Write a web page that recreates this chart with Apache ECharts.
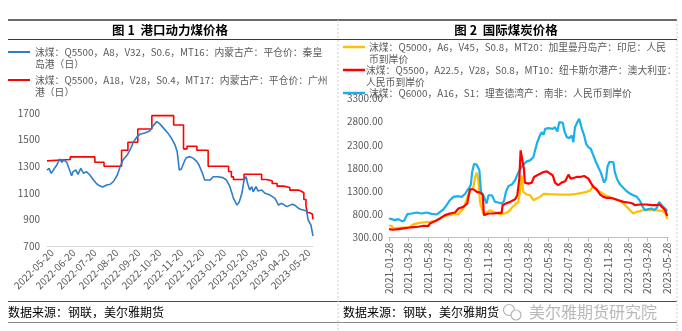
<!DOCTYPE html>
<html><head><meta charset="utf-8">
<script src="https://cdn.jsdelivr.net/npm/echarts@6/dist/echarts.min.js"></script>
<style>html,body{margin:0;padding:0;background:#fff}#c{width:682px;height:331px}</style>
</head><body><div id="c"></div>
<script>
// ---------- Figure 1: port thermal coal prices ----------
const leftStart = '2022-05-13', leftEnd = '2023-05-26';
const leftTicks = ['2022-05-20','2022-06-20','2022-07-20','2022-08-20','2022-09-20','2022-10-20','2022-11-20','2022-12-20','2023-01-20','2023-02-20','2023-03-20','2023-04-20','2023-05-20'];
const leftYTicks = [700, 900, 1100, 1300, 1500, 1700];
// day offsets from leftStart
const qhdDays = [0,3,6,9,14,18,21,24,28,32,35,37,41,44,48,52,56,61,63,66,70,74,79,85,90,95,100,104,108,114,119,123,128,132,139,146,151,156,160,165,172,177,182,185,188,191,195,198,203,208,213,216,221,224,232,236,243,250,255,260,265,270,273,277,280,283,285,288,291,293,297,300,305,310,317,324,329,333,341,348,352,359,364,369,371,375,378];
const qhdVals = [1271,1284,1246,1271,1309,1354,1329,1347,1329,1271,1229,1259,1271,1239,1284,1246,1259,1234,1246,1196,1171,1154,1144,1159,1164,1189,1234,1297,1347,1384,1434,1484,1522,1540,1550,1565,1605,1635,1620,1590,1547,1510,1459,1409,1271,1279,1334,1364,1372,1359,1334,1309,1246,1196,1196,1221,1221,1214,1196,1146,1058,1008,1028,1096,1196,1221,1171,1121,1146,1108,1146,1113,1121,1096,1083,1058,1008,1021,996,1013,1008,978,971,963,896,858,775];
const gzDays = [0,2,33,68,81,106,115,129,149,180,194,199,213,229,258,262,265,280,305,312,320,327,336,345,358,362,365,368,370,373,377,378];
const gzVals = [1340,1350,1370,1330,1300,1420,1480,1580,1680,1610,1430,1450,1420,1300,1260,1220,1200,1240,1200,1190,1170,1150,1140,1120,1110,1100,1050,1000,950,940,930,900];

// ---------- Figure 2: international coal prices ----------
const rightStart = '2021-01-28', rightEnd = '2023-05-31';
const rightTicks = ['2021-01-28','2021-03-28','2021-05-28','2021-07-28','2021-09-28','2021-11-28','2022-01-28','2022-03-28','2022-05-28','2022-07-28','2022-09-28','2022-11-28','2023-01-28','2023-03-28','2023-05-28'];
const rightYTicks = [300, 800, 1300, 1800, 2300, 2800, 3300];
const indoDays = [0,8,13,29,49,64,74,85,105,125,141,154,166,181,199,212,217,227,235,242,250,258,263,268,273,278,288,298,309,319,339,354,365,375,385,395,400,405,410,421,431,441,451,461,472,492,522,553,573,589,604,614,624,634,645,665,685,706,721,736,746,757,777,808,833,843,850];
const indoVals = [557,557,500,514,521,536,586,607,629,643,657,714,750,786,800,800,857,929,1086,1214,1321,1393,1607,1700,1536,1057,821,843,893,857,807,821,857,943,1014,1071,1286,1643,1286,1229,1214,1107,1143,1179,1243,1236,1229,1229,1243,1264,1286,1314,1414,1321,1286,1200,1143,1086,1000,893,821,857,893,893,879,843,700];
const ausDays = [0,13,29,44,59,74,90,105,120,125,141,156,171,186,202,212,227,239,247,258,268,278,286,290,304,319,334,344,347,357,370,385,392,398,402,408,412,415,426,436,443,456,472,482,492,500,507,517,527,538,548,555,563,573,583,596,609,616,624,634,645,655,665,675,685,701,716,731,744,751,757,767,787,802,818,826,833,843,850];
const ausVals = [486,471,486,500,514,529,536,557,550,607,657,714,786,821,843,929,964,1036,1343,1343,1286,1271,1229,786,821,821,836,836,1000,1036,1071,1129,1214,1571,2179,2157,1786,1486,1464,1486,1607,1657,1714,1729,1679,1643,1486,1429,1486,1514,1657,1571,1586,1607,1607,1629,1571,1486,1393,1343,1229,1179,1157,1157,1143,1107,1071,1057,1036,1000,1036,1014,1014,1000,1000,1014,964,893,771];
const saDays = [0,8,18,29,39,46,52,56,69,85,100,115,130,146,156,166,176,186,197,212,222,232,239,245,250,254,260,268,276,281,288,293,298,304,314,324,334,344,351,357,365,375,385,392,400,410,421,431,441,446,453,461,466,472,477,487,492,500,507,514,520,531,535,543,551,558,563,568,575,581,589,596,602,609,616,624,632,639,647,653,657,663,667,673,685,690,698,706,716,726,736,746,757,767,775,782,792,802,810,818,825,833,843,850];
const saVals = [714,700,679,700,657,664,643,807,821,843,821,843,814,800,857,907,1000,1107,1179,1193,1179,1236,1321,1371,1443,1714,1893,1871,1750,1286,1214,1214,1036,1214,1214,1071,1057,1036,1086,1286,1414,1443,1536,1657,1771,1871,1943,1964,2036,2179,2357,2500,2571,2514,2643,2657,2679,2643,2679,2586,2786,2771,2607,2464,2443,2500,2357,2679,2786,2857,2643,2500,2321,2250,2214,2071,1929,1821,1700,1571,1486,1571,1821,1929,1929,1700,1536,1443,1371,1300,1250,1214,1179,1086,964,893,914,929,893,943,1071,1000,929,871];

const names = {
  qhd: ['沫煤：Q5500，A8，V32，S0.6，MT16：内蒙古产：平仓价：秦皇', '岛港（日）'],
  gz: ['沫煤：Q5500，A18，V28，S0.4，MT17：内蒙古产：平仓价：广州', '港（日）'],
  indo: ['沫煤：Q5000，A6，V45，S0.8，MT20：加里曼丹岛产：印尼：人民', '币到岸价'],
  aus: ['沫煤：Q5500，A22.5，V28，S0.8，MT10：纽卡斯尔港产：澳大利亚：', '人民币到岸价'],
  sa: ['沫煤：Q6000，A16，S1：理查德湾产：南非：人民币到岸价']
};

function toTs(s) { const p = s.split('-').map(Number); return Date.UTC(p[0], p[1] - 1, p[2]); }
function dayTs(start, d) { const p = start.split('-').map(Number); return Date.UTC(p[0], p[1] - 1, p[2] + d); }
function pairs(start, days, vals) { return days.map((d, i) => [dayTs(start, d), vals[i]]); }
function fmtDate(v) { const d = new Date(v); const z = n => (n < 10 ? '0' : '') + n; return d.getUTCFullYear() + '-' + z(d.getUTCMonth() + 1) + '-' + z(d.getUTCDate()); }

const FONT = '"Noto Sans CJK SC", "Noto Sans", sans-serif';
const GRAY = '#595959';

function legendItem(x, y, tx, color, w, lines) {
  return [
    { type: 'line', shape: { x1: x, y1: y, x2: x + 22, y2: y }, style: { stroke: color, lineWidth: w } },
    { type: 'text', x: tx, y: y - 6, style: { text: lines.join('\n'), font: '9.8px ' + FONT, fill: GRAY, lineHeight: 12 } }
  ];
}
function hline(y, w, c) { return { type: 'line', shape: { x1: 8, y1: y, x2: 677, y2: y }, style: { stroke: c, lineWidth: w } }; }
function vdash(x) { return { type: 'line', shape: { x1: x, y1: 20, x2: x, y2: 331 }, style: { stroke: '#cfcfcf', lineWidth: 1, lineDash: [2, 2] } }; }

const chart = echarts.init(document.getElementById('c'), null, { renderer: 'canvas' });
chart.setOption({
  animation: false,
  backgroundColor: '#fff',
  textStyle: { fontFamily: FONT },
  grid: [
    { left: 47, top: 113, width: 266, height: 133 },
    { left: 389, top: 98.3, width: 279.3, height: 139.4 }
  ],
  xAxis: [
    {
      type: 'value', gridIndex: 0, min: toTs(leftStart), max: toTs(leftEnd),
      axisLine: { show: true, onZero: false, lineStyle: { color: '#d9d9d9', width: 1 } },
      axisTick: { show: false }, splitLine: { show: false },
      axisLabel: { customValues: leftTicks.map(toTs), rotate: 45, fontSize: 10, color: GRAY, margin: 5, formatter: fmtDate, hideOverlap: false }
    },
    {
      type: 'value', gridIndex: 1, min: toTs(rightStart), max: toTs(rightEnd),
      axisLine: { show: true, onZero: false, lineStyle: { color: '#bfbfbf', width: 1 } },
      axisTick: { show: true, customValues: rightTicks.map(toTs), length: 4, lineStyle: { color: '#bfbfbf' } },
      splitLine: { show: false },
      axisLabel: { customValues: rightTicks.map(toTs), rotate: 90, fontSize: 10, color: GRAY, margin: 5, formatter: fmtDate, hideOverlap: false }
    }
  ],
  yAxis: [
    {
      type: 'value', gridIndex: 0, min: leftYTicks[0], max: leftYTicks[leftYTicks.length - 1], interval: 200,
      axisLine: { show: false }, axisTick: { show: false }, splitLine: { show: false },
      axisLabel: { fontSize: 10, color: GRAY, margin: 7, formatter: v => String(v) }
    },
    {
      type: 'value', gridIndex: 1, min: rightYTicks[0], max: rightYTicks[rightYTicks.length - 1], interval: 500,
      axisLine: { show: false }, axisTick: { show: false }, splitLine: { show: false },
      axisLabel: { fontSize: 10, color: GRAY, margin: 6, formatter: v => v.toFixed(2) }
    }
  ],
  series: [
    { name: names.qhd.join(''), type: 'line', xAxisIndex: 0, yAxisIndex: 0, showSymbol: false, data: pairs(leftStart, qhdDays, qhdVals), lineStyle: { color: '#2E7DCB', width: 1.6 }, itemStyle: { color: '#2E7DCB' }, z: 3 },
    { name: names.gz.join(''), type: 'line', xAxisIndex: 0, yAxisIndex: 0, showSymbol: false, step: 'end', data: pairs(leftStart, gzDays, gzVals), lineStyle: { color: '#FF0000', width: 1.6 }, itemStyle: { color: '#FF0000' }, z: 2 },
    { name: names.indo.join(''), type: 'line', xAxisIndex: 1, yAxisIndex: 1, showSymbol: false, data: pairs(rightStart, indoDays, indoVals), lineStyle: { color: '#FFC000', width: 2.2 }, itemStyle: { color: '#FFC000' }, z: 2 },
    { name: names.aus.join(''), type: 'line', xAxisIndex: 1, yAxisIndex: 1, showSymbol: false, data: pairs(rightStart, ausDays, ausVals), lineStyle: { color: '#FF0000', width: 2.2 }, itemStyle: { color: '#FF0000' }, z: 4 },
    { name: names.sa.join(''), type: 'line', xAxisIndex: 1, yAxisIndex: 1, showSymbol: false, data: pairs(rightStart, saDays, saVals), lineStyle: { color: '#1AB0EE', width: 2.2 }, itemStyle: { color: '#1AB0EE' }, z: 3 }
  ],
  graphic: [
    hline(20, 1.5, '#3a3a3a'),
    hline(39.5, 1.2, '#3a3a3a'),
    hline(301.5, 1.2, '#4a4a4a'),
    hline(322.5, 1, '#8a8a8a'),
    vdash(338), vdash(677),
    { type: 'text', x: 170, y: 30, style: { text: '图 1  港口动力煤价格', font: 'bold 12.5px ' + FONT, fill: '#000', align: 'center', verticalAlign: 'middle' } },
    { type: 'text', x: 506, y: 30, style: { text: '图 2  国际煤炭价格', font: 'bold 12.5px ' + FONT, fill: '#000', align: 'center', verticalAlign: 'middle' } },
    ...legendItem(8, 52, 35, '#2E7DCB', 2, names.qhd),
    ...legendItem(8, 80, 35, '#FF0000', 2, names.gz),
    ...legendItem(343, 47, 369, '#FFC000', 2.5, names.indo),
    ...legendItem(343, 70, 366, '#FF0000', 2.5, names.aus),
    ...legendItem(343, 93, 369, '#1AB0EE', 2.5, names.sa),
    { type: 'text', x: 8, y: 312, style: { text: '数据来源：钢联，美尔雅期货', font: '12px ' + FONT, fill: '#000', verticalAlign: 'middle' } },
    { type: 'text', x: 343, y: 312, style: { text: '数据来源：钢联，美尔雅期货', font: '12px ' + FONT, fill: '#000', verticalAlign: 'middle' } },
    { type: 'circle', shape: { cx: 509, cy: 310, r: 5.5 }, style: { fill: 'none', stroke: '#b5b5b5', lineWidth: 1.2 } },
    { type: 'circle', shape: { cx: 516, cy: 315, r: 5 }, style: { fill: '#fff', stroke: '#b5b5b5', lineWidth: 1.2 } },
    { type: 'text', x: 529, y: 312, style: { text: '美尔雅期货研究院', font: '16px ' + FONT, fill: 'rgba(160,160,160,0.75)', verticalAlign: 'middle' } }
  ]
});
</script>
</body></html>
